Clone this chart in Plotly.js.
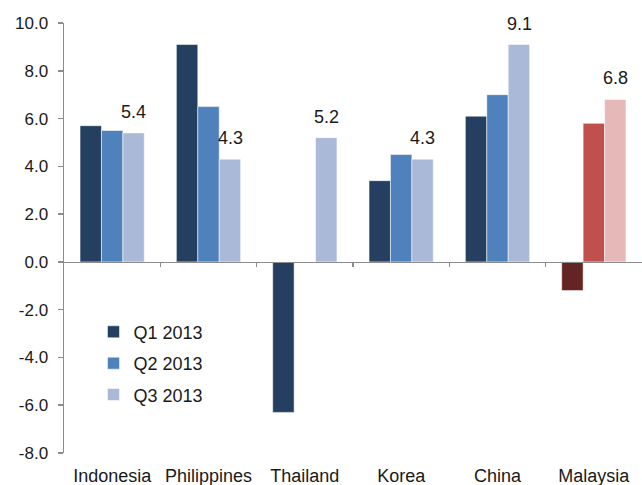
<!DOCTYPE html>
<html>
<head>
<meta charset="utf-8">
<script src="https://cdn.plot.ly/plotly-3.0.1.min.js"></script>
<style>
  html, body { margin: 0; padding: 0; background: #fff; }
  #chart { width: 642px; height: 485px; }
</style>
</head>
<body>
<div id="chart"></div>
<script>
// GDP growth by quarter, 2013
const categories = ['Indonesia', 'Philippines', 'Thailand', 'Korea', 'China', 'Malaysia'];
const seriesNames = ['Q1 2013', 'Q2 2013', 'Q3 2013'];
const q1 = [5.7, 9.1, -6.3, 3.4, 6.1, -1.2];
const q2 = [5.5, 6.5, null, 4.5, 7.0, 5.8];
const q3 = [5.4, 4.3, 5.2, 4.3, 9.1, 6.8];
const yTicks = [-8, -6, -4, -2, 0, 2, 4, 6, 8, 10];

const highlight = 'Malaysia';
const blues = ['#243F60', '#4F81BD', '#AAB9D8'];
const reds = ['#632523', '#C0504D', '#E6B9B8'];
const axisGray = '#8c8c8c';
const fontFamily = "'Liberation Sans', Arial, sans-serif";

const series = [q1, q2, q3];
const traces = series.map((vals, i) => ({
  type: 'bar',
  name: seriesNames[i],
  x: categories,
  y: vals,
  legendgroup: 'g' + i,
  marker: {
    color: categories.map(c => c === highlight ? reds[i] : blues[i]),
    line: { color: 'rgba(255,255,255,0.7)', width: 0.75 }
  },
  hoverinfo: 'skip'
}));

// invisible trace so the zero-line axis (x2) gets drawn
traces.push({
  type: 'scatter',
  mode: 'markers',
  x: [0],
  y: [0],
  xaxis: 'x2',
  yaxis: 'y',
  marker: { opacity: 0 },
  showlegend: false,
  hoverinfo: 'skip'
});

// labels over the Q3 bars only
const barOffset = 21.5;
const annotations = categories.map((c, i) => ({
  x: c,
  y: q3[i],
  xref: 'x',
  yref: 'y',
  text: q3[i].toFixed(1),
  showarrow: false,
  xshift: barOffset,
  yshift: 9,
  yanchor: 'bottom',
  font: { size: 18, color: '#1a1a1a', family: fontFamily }
}));

const yMin = yTicks[0], yMax = yTicks[yTicks.length - 1];

const layout = {
  width: 642,
  height: 485,
  margin: { l: 64, r: 0, t: 23, b: 32 },
  paper_bgcolor: '#fff',
  plot_bgcolor: '#fff',
  font: { family: fontFamily, size: 17, color: '#1a1a1a' },
  barmode: 'group',
  bargap: 0.333,
  bargroupgap: 0,
  showlegend: true,
  legend: {
    x: 0.051,
    y: 0.208,
    xanchor: 'left',
    yanchor: 'middle',
    bgcolor: 'rgba(0,0,0,0)',
    font: { size: 18, color: '#1a1a1a' },
    tracegroupgap: 5
  },
  xaxis: {
    type: 'category',
    showline: false,
    showgrid: false,
    zeroline: false,
    ticks: '',
    ticklabelstandoff: 10,
    tickfont: { size: 18 }
  },
  xaxis2: {
    overlaying: 'x',
    anchor: 'free',
    position: (0 - yMin) / (yMax - yMin),
    range: [-0.5, categories.length - 0.5],
    showline: true,
    linecolor: axisGray,
    linewidth: 1.5,
    ticks: 'outside',
    ticklen: 4,
    tickwidth: 1.5,
    tickcolor: axisGray,
    tickvals: categories.slice(1).map((_, i) => i + 0.5),
    showticklabels: false,
    showgrid: false,
    zeroline: false
  },
  yaxis: {
    range: [yMin, yMax],
    tickvals: yTicks,
    ticktext: yTicks.map(v => v.toFixed(1)),
    showgrid: false,
    zeroline: false,
    showline: true,
    linecolor: axisGray,
    linewidth: 1.5,
    ticks: 'outside',
    ticklen: 5,
    tickwidth: 1.5,
    tickcolor: axisGray,
    ticklabelstandoff: 6,
    tickfont: { size: 17 }
  },
  annotations: annotations
};

Plotly.newPlot('chart', traces, layout, { staticPlot: true, displayModeBar: false });
</script>
</body>
</html>
